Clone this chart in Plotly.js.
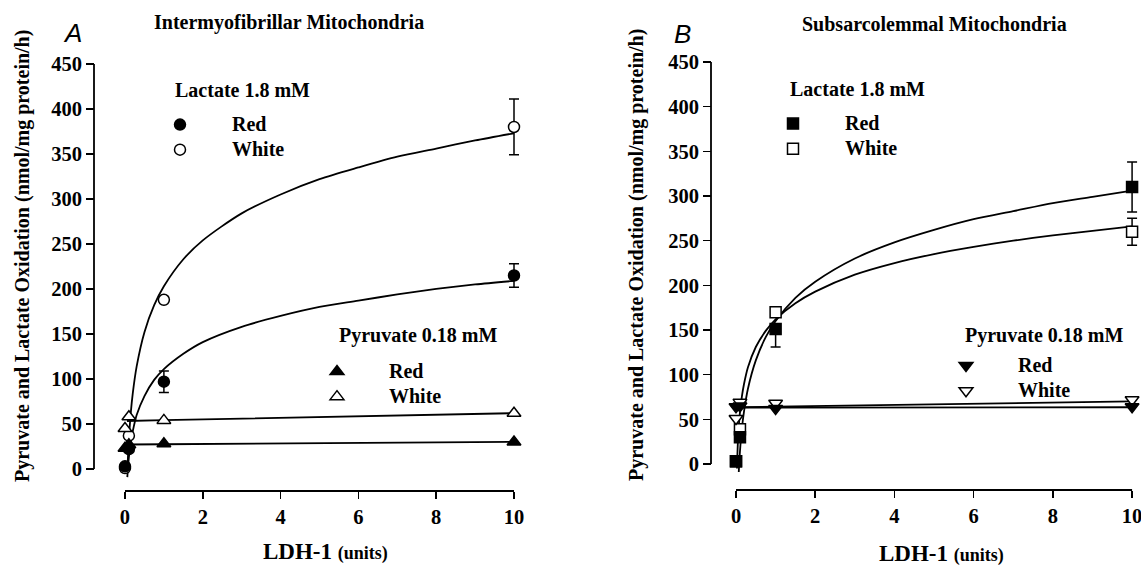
<!DOCTYPE html>
<html>
<head>
<meta charset="utf-8">
<script src="https://cdn.plot.ly/plotly-3.0.1.min.js"></script>
<style>html,body{margin:0;padding:0;background:#fff;}#chart{width:1141px;height:566px;}</style>
</head>
<body>
<div id="chart"></div>
<script>
// ---------- data ----------
const ldhUnits = [0, 0.1, 1, 10];
const xTicks = [0, 2, 4, 6, 8, 10];
const yTicks = [0, 50, 100, 150, 200, 250, 300, 350, 400, 450];

// Panel A - Intermyofibrillar
const imfLactateRed = [3, 22, 97, 215];
const imfLactateRedErr = [0, 0, 12, 13];
const imfLactateWhite = [1, 37, 188, 380];
const imfLactateWhiteErr = [0, 0, 0, 31];
const imfPyruvateRed = [23, 27, 28, 30];
const imfPyruvateWhite = [45, 58, 54, 62];

// fitted curves, panel A
const imfCurveX = [0.06, 0.07, 0.08, 0.1, 0.15, 0.2, 0.3, 0.5, 0.75, 1, 1.5, 2, 3, 4, 5, 6, 7, 8, 9, 10];
const imfCurveWhite = [-5, 7, 17, 33, 63, 84, 114, 152, 182, 203, 233, 254, 284, 305, 322, 335, 347, 356, 365, 373];
const imfCurveRed = [-9, -2, 3, 13, 30, 42, 60, 81, 99, 111, 128, 141, 158, 170, 180, 187, 194, 200, 205, 209];
const imfPyrRedLineX = [0.1, 1, 10];
const imfPyrRedLine = [27.2, 27.5, 30.2];
const imfPyrWhiteLineX = [0.05, 1, 10];
const imfPyrWhiteLine = [53.3, 54.2, 62];

// Panel B - Subsarcolemmal
const ssLactateRed = [3, 30, 151, 310];
const ssLactateRedErrPlus = [0, 0, 0, 28];
const ssLactateRedErrMinus = [0, 0, 20, 28];
const ssLactateWhite = [3, 39, 170, 260];
const ssLactateWhiteErr = [0, 0, 0, 15];
const ssPyruvateRed = [64, 65, 62, 64];
const ssPyruvateWhite = [51, 69, 68, 72];

const ssCurveRedX = [0.07, 0.08, 0.09, 0.1, 0.15, 0.2, 0.3, 0.5, 0.75, 1, 1.5, 2, 3, 4, 5, 6, 7, 8, 9, 10];
const ssCurveRed = [-9, 0, 7, 14, 40, 58, 84, 116, 142, 160, 186, 204, 230, 248, 262, 274, 283, 292, 299, 306];
const ssCurveWhiteX = [0.025, 0.03, 0.04, 0.05, 0.07, 0.1, 0.15, 0.2, 0.3, 0.5, 0.75, 1, 1.5, 2, 3, 4, 5, 6, 7, 8, 9, 10];
const ssCurveWhite = [-5, 3.5, 16.5, 27, 42, 58, 76, 89, 108, 131, 149, 162, 180, 193, 212, 225, 235, 243, 250, 256, 261, 266];
const ssPyrRedLineX = [0.03, 1, 10];
const ssPyrRedLine = [63, 63, 63.5];
const ssPyrWhiteLineX = [0.03, 1, 10];
const ssPyrWhiteLine = [63.5, 64.2, 70];

// ---------- styling ----------
const SERIF = 'Liberation Serif, Times New Roman, serif';
const SANS = 'Liberation Sans, Arial, sans-serif';
const W = 1141, H = 566;
const px = v => v / W;
const py = v => 1 - v / H;
const bigName = s => '<span style="font-size:20px">' + s + '</span>';

function curve(x, y, xa, ya) {
  return {x: x, y: y, xaxis: xa, yaxis: ya, mode: 'lines', type: 'scatter',
    line: {color: 'black', width: 1.8, shape: 'spline', smoothing: 0.8},
    showlegend: false, hoverinfo: 'skip'};
}
function errObj(plus, minus) {
  const o = {type: 'data', array: plus, visible: true, color: 'black', thickness: 1.5, width: 5};
  if (minus) { o.symmetric = false; o.arrayminus = minus; }
  return o;
}
function pts(name, y, symbol, filled, xa, ya, leg, rank, err) {
  const t = {x: ldhUnits, y: y, xaxis: xa, yaxis: ya, mode: 'markers', type: 'scatter', name: bigName(name),
    legend: leg, legendrank: rank, cliponaxis: false,
    marker: {symbol: symbol, size: symbol.indexOf('triangle') === 0 ? 12 : 11,
      color: filled ? 'black' : 'white', line: {color: 'black', width: 1.5}}};
  if (err) t.error_y = err;
  return t;
}

const data = [
  curve(imfCurveX, imfCurveWhite, 'x', 'y'),
  curve(imfCurveX, imfCurveRed, 'x', 'y'),
  curve(imfPyrRedLineX, imfPyrRedLine, 'x', 'y'),
  curve(imfPyrWhiteLineX, imfPyrWhiteLine, 'x', 'y'),
  pts('White', imfLactateWhite, 'circle', false, 'x', 'y', 'legend', 2, errObj(imfLactateWhiteErr)),
  pts('Red', imfLactateRed, 'circle', true, 'x', 'y', 'legend', 1, errObj(imfLactateRedErr)),
  pts('White', imfPyruvateWhite, 'triangle-up', false, 'x', 'y', 'legend2', 2),
  pts('Red', imfPyruvateRed, 'triangle-up', true, 'x', 'y', 'legend2', 1),

  curve(ssCurveRedX, ssCurveRed, 'x2', 'y2'),
  curve(ssCurveWhiteX, ssCurveWhite, 'x2', 'y2'),
  curve(ssPyrRedLineX, ssPyrRedLine, 'x2', 'y2'),
  curve(ssPyrWhiteLineX, ssPyrWhiteLine, 'x2', 'y2'),
  pts('White', ssLactateWhite, 'square', false, 'x2', 'y2', 'legend3', 2, errObj(ssLactateWhiteErr)),
  pts('Red', ssLactateRed, 'square', true, 'x2', 'y2', 'legend3', 1, errObj(ssLactateRedErrPlus, ssLactateRedErrMinus)),
  pts('White', ssPyruvateWhite, 'triangle-down', false, 'x2', 'y2', 'legend4', 2),
  pts('Red', ssPyruvateRed, 'triangle-down', true, 'x2', 'y2', 'legend4', 1)
];

const tickFont = {family: SERIF, size: 20.5, color: 'black', weight: 'bold'};
function xAx(domain, range, pos) {
  return {domain: domain, range: range, anchor: 'free', position: pos, tickvals: xTicks,
    ticks: 'outside', ticklen: 7, tickwidth: 1.6, tickcolor: 'black', showline: false,
    showgrid: false, zeroline: false, tickfont: tickFont, fixedrange: true, ticklabeloverflow: 'allow'};
}
function yAx(domain, range, pos) {
  return {domain: domain, range: range, anchor: 'free', position: pos, tickvals: yTicks,
    ticks: 'outside', ticklen: 8, tickwidth: 1.6, tickcolor: 'black', showline: false,
    showgrid: false, zeroline: false, tickfont: tickFont, fixedrange: true, ticklabeloverflow: 'allow'};
}
function legendAt(xp, yp) {
  return {x: px(xp), y: py(yp), xanchor: 'left', yanchor: 'top', bgcolor: 'rgba(0,0,0,0)',
    font: {family: SERIF, size: 17, color: 'black', weight: 'bold'}, itemwidth: 94,
    traceorder: 'normal', borderwidth: 0};
}
function ann(text, x, y, size, opts) {
  return Object.assign({text: text, xref: 'paper', yref: 'paper', x: px(x), y: py(y),
    showarrow: false, xanchor: 'center', yanchor: 'middle',
    font: {family: SERIF, size: size, color: 'black'}}, opts || {});
}

const layout = {
  width: W, height: H, margin: {l: 0, r: 0, t: 0, b: 0},
  paper_bgcolor: 'white', plot_bgcolor: 'rgba(0,0,0,0)',
  showlegend: true,
  xaxis: xAx([px(95), px(528)], [-0.771, 10.36], py(491)),
  yaxis: yAx([py(478), py(60)], [-10, 454.4], px(94)),
  xaxis2: xAx([px(712), px(1140)], [-0.606, 10.2], py(490)),
  yaxis2: yAx([py(474), py(58)], [-11.2, 454.5], px(711)),
  legend: legendAt(128, 107),
  legend2: legendAt(285, 354),
  legend3: legendAt(741, 106),
  legend4: legendAt(914, 348),
  shapes: [
    {type: 'line', xref: 'x', yref: 'paper', x0: 0, x1: 10, y0: py(491), y1: py(491), line: {color: 'black', width: 1.8}},
    {type: 'line', xref: 'paper', yref: 'y', x0: px(94), x1: px(94), y0: 0, y1: 450, line: {color: 'black', width: 1.8}},
    {type: 'line', xref: 'x2', yref: 'paper', x0: 0, x1: 10, y0: py(490), y1: py(490), line: {color: 'black', width: 1.8}},
    {type: 'line', xref: 'paper', yref: 'y2', x0: px(711), x1: px(711), y0: 0, y1: 450, line: {color: 'black', width: 1.8}}
  ],
  annotations: [
    ann('<b>Intermyofibrillar Mitochondria</b>', 289, 22, 20),
    ann('<b>Subsarcolemmal Mitochondria</b>', 934, 24, 20),
    ann('<i>A</i>', 72, 33, 26, {font: {family: SANS, size: 26, color: 'black'}}),
    ann('<i>B</i>', 682, 34, 26, {font: {family: SANS, size: 26, color: 'black'}}),
    ann('<b>Lactate 1.8 mM</b>', 173, 90, 20, {xanchor: 'left'}),
    ann('<b>Pyruvate 0.18 mM</b>', 337, 335, 20, {xanchor: 'left'}),
    ann('<b>Lactate 1.8 mM</b>', 788, 89, 20, {xanchor: 'left'}),
    ann('<b>Pyruvate 0.18 mM</b>', 963, 335, 20, {xanchor: 'left'}),
    ann('<b>LDH-1 <span style="font-size:18px">(units)</span></b>', 325, 551, 23),
    ann('<b>LDH-1 <span style="font-size:18px">(units)</span></b>', 941, 553, 23),
    ann('<b>Pyruvate and Lactate Oxidation (nmol/mg protein/h)</b>', 22, 256, 20, {textangle: -90}),
    ann('<b>Pyruvate and Lactate Oxidation (nmol/mg protein/h)</b>', 636, 255, 20, {textangle: -90})
  ]
};

Plotly.newPlot('chart', data, layout, {displayModeBar: false, staticPlot: true});
</script>
</body>
</html>
